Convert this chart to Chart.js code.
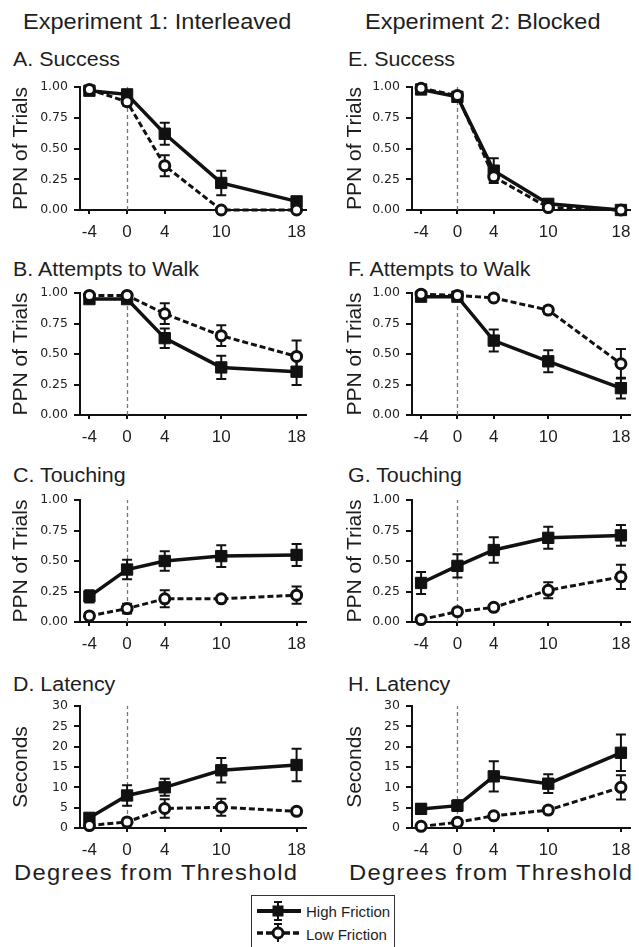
<!DOCTYPE html>
<html>
<head>
<meta charset="utf-8">
<script src="https://cdn.jsdelivr.net/npm/chart.js@4.4.1/dist/chart.umd.min.js"></script>
<style>
  body { margin: 0; background: #fff; width: 639px; height: 947px; position: relative; overflow: hidden;
         font-family: "Liberation Sans", Arial, sans-serif; color: #1e1e1e; }
  .txt { position: absolute; white-space: nowrap; line-height: 1; transform-origin: 0 0; }
  canvas { position: absolute; }
  .legend { position: absolute; left: 251px; top: 895px; width: 144px; height: 70px; border: 1px solid #333; box-sizing: border-box; }
</style>
</head>
<body>

<div class="txt" style="left:23px;top:11px;font-size:22px;transform:scaleX(1.07)">Experiment 1: Interleaved</div>
<div class="txt" style="left:365px;top:11px;font-size:22px;transform:scaleX(1.07)">Experiment 2: Blocked</div>

<div id="titles"></div>

<div class="txt" style="left:14px;top:862px;font-size:22px;letter-spacing:1.2px;transform:scaleX(1.08)">Degrees from Threshold</div>
<div class="txt" style="left:349px;top:862px;font-size:22px;letter-spacing:1.2px;transform:scaleX(1.08)">Degrees from Threshold</div>

<div class="legend"></div>
<svg style="position:absolute;left:256px;top:900px" width="46" height="22">
  <line x1="1" y1="11" x2="45" y2="11" stroke="#111" stroke-width="4"/>
  <line x1="22" y1="2" x2="22" y2="20" stroke="#111" stroke-width="2"/>
  <line x1="18" y1="2" x2="26" y2="2" stroke="#111" stroke-width="2"/>
  <line x1="18" y1="20" x2="26" y2="20" stroke="#111" stroke-width="2"/>
  <rect x="16.5" y="5.5" width="11" height="11" fill="#111"/>
</svg>
<svg style="position:absolute;left:256px;top:922px" width="46" height="22">
  <line x1="1" y1="11" x2="45" y2="11" stroke="#111" stroke-width="3.5" stroke-dasharray="6 3"/>
  <line x1="22" y1="2" x2="22" y2="20" stroke="#111" stroke-width="2"/>
  <line x1="18" y1="2" x2="26" y2="2" stroke="#111" stroke-width="2"/>
  <circle cx="22" cy="11" r="5" fill="#fff" stroke="#111" stroke-width="3"/>
</svg>
<div class="txt" style="left:306px;top:904px;font-size:15px">High Friction</div>
<div class="txt" style="left:306px;top:927px;font-size:15px">Low Friction</div>

<script>
// degrees from threshold (x values)
const degrees = [-4, 0, 4, 10, 18];

// Experiment 1: interleaved
const successHigh1 = [0.97, 0.94, 0.62, 0.22, 0.07];
const successHighErr1 = [0.02, 0.03, 0.09, 0.10, 0.03];
const successLow1 = [0.98, 0.88, 0.36, 0.00, 0.00];
const successLowErr1 = [0.01, 0.03, 0.085, 0, 0];

const attemptsHigh1 = [0.95, 0.95, 0.63, 0.39, 0.355];
const attemptsHighErr1 = [0.02, 0.02, 0.08, 0.095, 0.11];
const attemptsLow1 = [0.98, 0.98, 0.83, 0.65, 0.48];
const attemptsLowErr1 = [0.01, 0.01, 0.085, 0.085, 0.13];

const touchHigh1 = [0.21, 0.43, 0.50, 0.54, 0.55];
const touchHighErr1 = [0.05, 0.08, 0.08, 0.09, 0.09];
const touchLow1 = [0.05, 0.11, 0.19, 0.19, 0.22];
const touchLowErr1 = [0.02, 0.04, 0.07, 0.02, 0.07];

const latencyHigh1 = [2.5, 8.0, 10.0, 14.2, 15.5];
const latencyHighErr1 = [1.0, 2.5, 2.1, 3.0, 4.0];
const latencyLow1 = [0.6, 1.5, 4.8, 5.1, 4.1];
const latencyLowErr1 = [0.4, 0.8, 2.3, 2.1, 0.7];

// Experiment 2: blocked
const successHigh2 = [0.98, 0.92, 0.32, 0.05, 0.00];
const successHighErr2 = [0.01, 0.02, 0.10, 0.02, 0];
const successLow2 = [0.99, 0.93, 0.27, 0.02, 0.00];
const successLowErr2 = [0.01, 0.02, 0.03, 0.01, 0];

const attemptsHigh2 = [0.97, 0.97, 0.61, 0.44, 0.22];
const attemptsHighErr2 = [0.01, 0.02, 0.09, 0.09, 0.085];
const attemptsLow2 = [0.99, 0.98, 0.96, 0.86, 0.42];
const attemptsLowErr2 = [0.01, 0.01, 0.02, 0.03, 0.12];

const touchHigh2 = [0.32, 0.46, 0.59, 0.69, 0.71];
const touchHighErr2 = [0.09, 0.095, 0.105, 0.09, 0.085];
const touchLow2 = [0.02, 0.085, 0.12, 0.26, 0.37];
const touchLowErr2 = [0.01, 0.02, 0.02, 0.065, 0.10];

const latencyHigh2 = [4.7, 5.5, 12.7, 10.9, 18.5];
const latencyHighErr2 = [1.2, 1.3, 3.7, 2.3, 4.5];
const latencyLow2 = [0.4, 1.4, 3.0, 4.4, 10.0];
const latencyLowErr2 = [0.2, 0.5, 0.6, 0.8, 3.0];

const ppn = { yTitle: "PPN of Trials", yMax: 1, yStep: 0.25, fmt: (v) => v.toFixed(2) };
const secs = { yTitle: "Seconds", yMax: 30, yStep: 5, fmt: (v) => String(v) };

const panels = [
  { col: 0, row: 0, title: "A. Success", ...ppn, high: successHigh1, highErr: successHighErr1, low: successLow1, lowErr: successLowErr1 },
  { col: 0, row: 1, title: "B. Attempts to Walk", ...ppn, high: attemptsHigh1, highErr: attemptsHighErr1, low: attemptsLow1, lowErr: attemptsLowErr1 },
  { col: 0, row: 2, title: "C. Touching", ...ppn, high: touchHigh1, highErr: touchHighErr1, low: touchLow1, lowErr: touchLowErr1 },
  { col: 0, row: 3, title: "D. Latency", ...secs, high: latencyHigh1, highErr: latencyHighErr1, low: latencyLow1, lowErr: latencyLowErr1 },
  { col: 1, row: 0, title: "E. Success", ...ppn, high: successHigh2, highErr: successHighErr2, low: successLow2, lowErr: successLowErr2 },
  { col: 1, row: 1, title: "F. Attempts to Walk", ...ppn, high: attemptsHigh2, highErr: attemptsHighErr2, low: attemptsLow2, lowErr: attemptsLowErr2 },
  { col: 1, row: 2, title: "G. Touching", ...ppn, high: touchHigh2, highErr: touchHighErr2, low: touchLow2, lowErr: touchLowErr2 },
  { col: 1, row: 3, title: "H. Latency", ...secs, high: latencyHigh2, highErr: latencyHighErr2, low: latencyLow2, lowErr: latencyLowErr2 },
];

// page geometry
const rowTop = [87, 293, 500, 706];
const rowZero = [210, 415, 622, 828];
const titleTop = [49, 259, 465, 674];
const colLeft = [0, 320];
const colWidth = [320, 319];
const axisX = [80, 92];
const padL = [0, 14];
const padR = [14, 1];
const PAD_TOP = 15;
const XAXIS_H = 35;

const ink = "#111";

const zeroLine = {
  id: "zeroLine",
  beforeDatasetsDraw(chart) {
    const { ctx, scales: { x, y } } = chart;
    const px = Math.round(x.getPixelForValue(0)) + 0.5;
    ctx.save();
    ctx.strokeStyle = "#777";
    ctx.lineWidth = 1.3;
    ctx.setLineDash([4, 3]);
    ctx.beginPath();
    ctx.moveTo(px, y.bottom);
    ctx.lineTo(px, y.top);
    ctx.stroke();
    ctx.restore();
  },
};

const errorBars = {
  id: "errorBars",
  beforeDatasetsDraw(chart) {
    const { ctx, scales: { x, y } } = chart;
    ctx.save();
    ctx.strokeStyle = ink;
    ctx.lineWidth = 2;
    chart.data.datasets.forEach((ds) => {
      (ds.errors || []).forEach((e, i) => {
        if (!e) return;
        const pt = ds.data[i];
        const px = x.getPixelForValue(pt.x);
        const top = y.getPixelForValue(pt.y + e);
        const bot = y.getPixelForValue(Math.max(pt.y - e, 0));
        ctx.beginPath();
        ctx.moveTo(px, top); ctx.lineTo(px, bot);
        ctx.moveTo(px - 5, top); ctx.lineTo(px + 5, top);
        ctx.moveTo(px - 5, bot); ctx.lineTo(px + 5, bot);
        ctx.stroke();
      });
    });
    ctx.restore();
  },
};

function toPoints(values) {
  return degrees.map((d, i) => ({ x: d, y: values[i] }));
}

function renderPanel(p) {
  const titleDiv = document.createElement("div");
  titleDiv.className = "txt";
  titleDiv.style.cssText = `left:${p.col ? 348 : 13}px;top:${titleTop[p.row]}px;font-size:20px;transform:scaleX(1.07)`;
  titleDiv.textContent = p.title;
  document.getElementById("titles").appendChild(titleDiv);

  const c = document.createElement("canvas");
  const h = rowZero[p.row] - rowTop[p.row] + PAD_TOP + XAXIS_H;
  c.width = colWidth[p.col];
  c.height = h;
  c.style.left = colLeft[p.col] + "px";
  c.style.top = rowTop[p.row] - PAD_TOP + "px";
  c.style.width = colWidth[p.col] + "px";
  c.style.height = h + "px";
  document.body.appendChild(c);

  return new Chart(c.getContext("2d"), {
    type: "line",
    data: {
      datasets: [
        {
          label: "High Friction",
          data: toPoints(p.high),
          errors: p.highErr,
          borderColor: ink,
          backgroundColor: ink,
          borderWidth: 3.5,
          pointStyle: "rect",
          pointRadius: 8,
          pointBorderWidth: 1,
          tension: 0,
          clip: false,
          order: 1,
        },
        {
          label: "Low Friction",
          data: toPoints(p.low),
          errors: p.lowErr,
          borderColor: ink,
          backgroundColor: "#fff",
          borderWidth: 3,
          borderDash: [6, 3],
          pointStyle: "circle",
          pointRadius: 5,
          pointBorderWidth: 3,
          pointBackgroundColor: "#fff",
          tension: 0,
          clip: false,
          order: 0,
        },
      ],
    },
    options: {
      responsive: false,
      animation: false,
      devicePixelRatio: 1,
      layout: { padding: { top: PAD_TOP, left: padL[p.col], right: padR[p.col], bottom: 0 } },
      plugins: { legend: { display: false }, tooltip: { enabled: false } },
      events: [],
      scales: {
        x: {
          type: "linear",
          min: -5,
          max: 19,
          afterBuildTicks: (s) => { s.ticks = degrees.map((v) => ({ value: v })); },
          ticks: {
            autoSkip: false,
            maxRotation: 0,
            padding: 8,
            color: "#1e1e1e",
            font: { family: "Liberation Sans", size: 17 },
            callback: (v) => String(v),
          },
          grid: { drawOnChartArea: false, drawTicks: true, tickLength: 4, color: ink, lineWidth: 2 },
          border: { display: true, color: ink, width: 2 },
          afterFit: (s) => { s.height = XAXIS_H; s.paddingLeft = 0; s.paddingRight = 0; },
        },
        y: {
          min: 0,
          max: p.yMax,
          ticks: {
            stepSize: p.yStep,
            autoSkip: false,
            padding: 6,
            color: "#222",
            font: { family: "DejaVu Sans", size: 12.5 },
            callback: (v) => p.fmt(v),
          },
          grid: { drawOnChartArea: false, drawTicks: true, tickLength: 6, color: ink, lineWidth: 2 },
          border: { display: true, color: ink, width: 2 },
          title: {
            display: true,
            text: p.yTitle,
            color: "#1e1e1e",
            font: { family: "Liberation Sans", size: 21 },
            padding: { top: 9, bottom: 0 },
          },
          afterFit: (s) => { s.width = axisX[p.col] - padL[p.col]; s.paddingTop = 0; s.paddingBottom = 0; },
        },
      },
    },
    plugins: [zeroLine, errorBars],
  });
}

panels.forEach(renderPanel);
</script>
</body>
</html>
